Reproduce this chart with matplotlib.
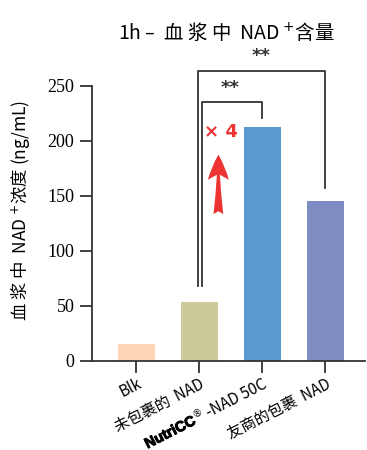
import numpy as np
import matplotlib
matplotlib.use('Agg')
import matplotlib.pyplot as plt
import matplotlib.patheffects as pe
from matplotlib.transforms import IdentityTransform

# Données (ng/mL)
groups = ['Blk', '未包裹的  NAD', ' -NAD 50C', '友商的包裹  NAD']
brand = 'NutriCC'  # préfixe du 3e label (logo en gras)
values = [15, 54, 213, 145]
colors = ['#FDD5B6', '#CCCA9A', '#5A98D2', '#7F8BC3']
yticks = [0, 50, 100, 150, 200, 250]

# comparaisons : (i, j, hauteur du trait, label)
brackets = [(1, 2, 235, '**'), (1, 3, 264, '**')]

plt.rcParams['font.family'] = ['Noto Sans CJK SC', 'DejaVu Sans']
line_col = '#333333'
rot = 27

fig = plt.figure(figsize=(3.67, 4.5), dpi=100)
ax = fig.add_axes([0.25, 0.198, 0.745, 0.611])

x = np.arange(len(values))
ax.bar(x, values, width=0.59, color=colors, zorder=2)

ax.set_xlim(-0.71, 3.63)
ax.set_ylim(0, 250)
ax.set_yticks(yticks)
ax.set_yticklabels([str(t) for t in yticks], family='Liberation Serif', fontsize=13)
ax.set_xticks(x)
ax.set_xticklabels(groups, rotation=rot, ha='right', va='top',
                   rotation_mode='anchor', fontsize=11)
ax.tick_params(axis='x', length=8.5, width=1.3, color=line_col, pad=2)
ax.tick_params(axis='y', length=8.5, width=1.3, color=line_col, pad=4)

for s in ['top', 'right']:
    ax.spines[s].set_visible(False)
for s in ['left', 'bottom']:
    ax.spines[s].set_linewidth(1.3)
    ax.spines[s].set_color(line_col)

# crochets de significativité
for k, (i, j, h, lab) in enumerate(brackets):
    xl = i + (0.04 if k == 0 else -0.03)
    xr = j
    yl = values[i] + 14
    yr = values[j] + (8 if k == 0 else 12)
    ax.plot([xl, xl, xr, xr], [yl, h, h, yr], color=line_col, lw=1.3,
            clip_on=False, zorder=3)
    ax.text((xl + xr) / 2 + (-0.03 if k == 0 else 0), h + 5, lab,
            ha='center', va='bottom', fontsize=13, fontweight='bold',
            family='DejaVu Sans', color=line_col)

# flèche x4
fold = values[2] / values[1]
ax.annotate('', xy=(1.30, 190), xytext=(1.30, 131),
            arrowprops=dict(arrowstyle='fancy,head_length=0.9,head_width=0.75,tail_width=0.35',
                            color='#EE3333', lw=0, mutation_scale=20))
ax.text(1.34, 208, f'× {fold:.0f}', color='#EE3333', fontsize=13,
        fontweight='bold', ha='center', va='center', family='DejaVu Sans')

fig.text(0.617, 0.927, '1h –  血 浆 中  NAD $^{+}$含量', ha='center', va='center',
         fontsize=14)
fig.text(0.055, 0.533, '血 浆 中  NAD $^{+}$浓度 (ng/mL)', rotation=90,
         ha='center', va='center', fontsize=12.5)

# logo "NutriCC®" devant le 3e label
fig.canvas.draw()
r = fig.canvas.get_renderer()
lab = ax.get_xticklabels()[2]
anchor = np.array(lab.get_transform().transform(lab.get_position()))
prop = lab.get_fontproperties()
w_lab = r.get_text_width_height_descent(lab.get_text(), prop, ismath=False)[0]
_, h_lp, d_lp = r.get_text_width_height_descent('lp', prop, ismath=False)
th = np.deg2rad(rot)
u = np.array([np.cos(th), np.sin(th)])
n = np.array([-np.sin(th), np.cos(th)])
base = anchor - (h_lp - d_lp) * n
p = base - w_lab * u

reg = fig.text(*(p + 6 * n), '®', fontsize=7, rotation=rot, rotation_mode='anchor',
               ha='right', va='baseline', transform=IdentityTransform(),
               family='DejaVu Sans')
w_reg = r.get_text_width_height_descent('®', reg.get_fontproperties(), ismath=False)[0]
q = p - (w_reg + 1) * u
fig.text(*q, brand, fontsize=10.5, rotation=rot, rotation_mode='anchor',
         ha='right', va='baseline', transform=IdentityTransform(),
         family='Liberation Sans', fontweight='bold', color='black',
         path_effects=[pe.withStroke(linewidth=0.7, foreground='black')])

plt.savefig('out.png', dpi=100)
